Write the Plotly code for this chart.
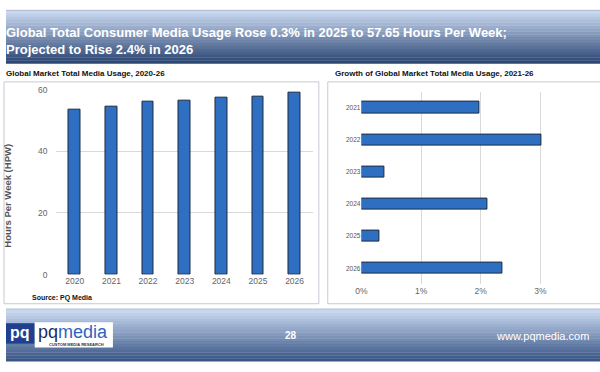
import plotly.graph_objects as go

# ---- data ----
years = ["2020", "2021", "2022", "2023", "2024", "2025", "2026"]
hours_per_week = [53.4, 54.4, 56.1, 56.3, 57.5, 57.65, 59.0]
growth_years = ["2021", "2022", "2023", "2024", "2025", "2026"]
growth_pct = [1.97, 3.02, 0.38, 2.12, 0.30, 2.37]
y_ticks = [0, 20, 40, 60]
x_ticks = [0, 1, 2, 3, 4]
x_tick_labels = ["0%", "1%", "2%", "3%", "4%"]

W, H = 600, 372
FONT = "Liberation Sans, Arial, sans-serif"


def px(x):
    return x / W


def py(y):
    return 1 - y / H


def lerp(c1, c2, t):
    return "rgb(%d,%d,%d)" % tuple(round(a + (b - a) * t) for a, b in zip(c1, c2))


fig = go.Figure()

fig.add_trace(go.Bar(
    x=years, y=hours_per_week, xaxis="x", yaxis="y",
    marker=dict(color="#2f6fc1", line=dict(color="#1c2a3e", width=1)),
    width=0.32, showlegend=False, hoverinfo="x+y",
))
fig.add_trace(go.Bar(
    x=growth_pct, y=growth_years, orientation="h", xaxis="x2", yaxis="y2",
    marker=dict(color="#2f6fc1", line=dict(color="#1c2a3e", width=1)),
    width=0.35, showlegend=False, hoverinfo="x+y",
))

shapes = []


def band(top, bot, c_top, c_bot, steps):
    h = (bot - top) / steps
    for k in range(steps):
        t = k / (steps - 1)
        y0 = top + k * h
        shapes.append(dict(type="rect", xref="paper", yref="paper",
                           x0=0, x1=1, y0=py(y0 + h + 0.3), y1=py(y0),
                           fillcolor=lerp(c_top, c_bot, t), line=dict(width=0), layer="below"))


band(6, 60, (200, 216, 240), (45, 71, 117), 18)
band(313, 366, (199, 215, 240), (58, 86, 134), 18)
shapes.append(dict(type="line", xref="paper", yref="paper", x0=0, x1=1,
                   y0=py(5.5), y1=py(5.5), line=dict(color="#a9b4c6", width=1)))
shapes.append(dict(type="line", xref="paper", yref="paper", x0=0, x1=1,
                   y0=py(312.5), y1=py(312.5), line=dict(color="#a9b4c6", width=1)))
# panel boxes
shapes.append(dict(type="rect", xref="paper", yref="paper",
                   x0=px(-2), x1=px(316), y0=py(307), y1=py(79),
                   line=dict(color="#c5cad3", width=1), layer="below"))
shapes.append(dict(type="rect", xref="paper", yref="paper",
                   x0=px(325), x1=px(602), y0=py(307), y1=py(79),
                   line=dict(color="#c5cad3", width=1), layer="below"))
# logo
shapes.append(dict(type="rect", xref="paper", yref="paper",
                   x0=px(0), x1=px(29), y0=py(348), y1=py(327),
                   fillcolor="#1f3f8f", line=dict(width=0)))
shapes.append(dict(type="rect", xref="paper", yref="paper",
                   x0=px(29), x1=px(108), y0=py(352), y1=py(326),
                   fillcolor="#ffffff", line=dict(width=0)))


def note(text, x, y, size, color=None, xanchor="left", **kw):
    f = dict(family=FONT, size=size)
    if color:
        f["color"] = color
    return dict(text=text, xref="paper", yref="paper", x=px(x), y=py(y),
                xanchor=xanchor, yanchor="middle", font=f, showarrow=False, **kw)


annotations = [
    note("<b>Global Total Consumer Media Usage Rose 0.3% in 2025 to 57.65 Hours Per Week;<br>Projected to Rise 2.4% in 2026</b>",
         -2, 36.5, 13, "white", align="left"),
    note("<b>Global Market Total Media Usage, 2020-26</b>", -2, 70, 8, "#111"),
    note("<b>Growth of Global Market Total Media Usage, 2021-26</b>", 330, 70, 8, "#111"),
    note("<b>Hours Per Week (HPW)</b>", 2, 196, 9.5, "#555", xanchor="center", textangle=-90),
    note("<b>Source: PQ Media</b>", 24, 301, 7, "#111"),
    note("<b>28</b>", 288, 340, 10, "white", xanchor="center"),
    note("www.pqmedia.com", 591, 340, 11, "white", xanchor="right"),
    note("<b>pq</b>", 14, 337, 16, "white", xanchor="center"),
    note("<span style='color:#1a2d66'>pq</span><span style='color:#2e63c0'>media</span>",
         68, 336, 18, xanchor="center"),
    note("<b>CUSTOM MEDIA RESEARCH</b>", 71, 348.5, 4, "#333", xanchor="center"),
]

fig.update_layout(
    width=W, height=H,
    margin=dict(l=0, r=0, t=0, b=0),
    paper_bgcolor="white", plot_bgcolor="white",
    shapes=shapes, annotations=annotations,
    bargap=0,
    xaxis=dict(domain=[px(51), px(310)], type="category", showgrid=False,
               showline=False, ticks="", tickfont=dict(family=FONT, size=8.5, color="#666"),
               fixedrange=True),
    yaxis=dict(domain=[py(277), py(87)], range=[0, 60], tickvals=y_ticks,
               showgrid=True, gridcolor="#d9d9d9", gridwidth=1, zeroline=False,
               showline=False, ticks="", ticklabelstandoff=8,
               tickfont=dict(family=FONT, size=8.5, color="#666"), fixedrange=True),
    xaxis2=dict(domain=[px(359), px(600)], anchor="y2", range=[0, 4],
                tickvals=x_ticks, ticktext=x_tick_labels,
                showgrid=True, gridcolor="#d9d9d9", gridwidth=1, zeroline=False,
                showline=False, ticks="", tickfont=dict(family=FONT, size=8.5, color="#666"),
                fixedrange=True),
    yaxis2=dict(domain=[py(287), py(89)], anchor="x2", type="category",
                autorange="reversed", showgrid=False, showline=False, ticks="",
                tickfont=dict(family=FONT, size=6.5, color="#555"), fixedrange=True),
)

post = ("document.documentElement.style.margin='0px';"
        "document.body.style.margin='0px';"
        "document.body.style.padding='0px';")

fig.write_html("out.html", config={"displayModeBar": False}, post_script=post)
